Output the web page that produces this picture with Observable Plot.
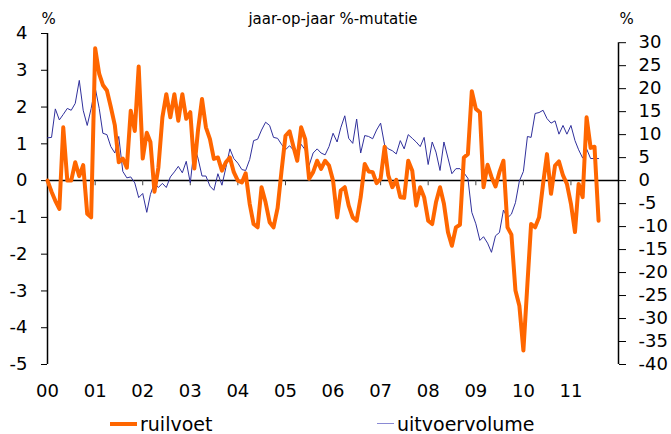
<!DOCTYPE html>
<html><head><meta charset="utf-8">
<script src="https://cdn.jsdelivr.net/npm/d3@7"></script>
<script src="https://cdn.jsdelivr.net/npm/@observablehq/plot@0.6"></script>
<style>
body{margin:0;background:#fff;font-family:"DejaVu Sans",sans-serif;}
#wrap{position:relative;width:671px;height:434px;overflow:hidden;}
#legend{position:absolute;top:409px;left:0;width:671px;height:29px;font-size:19px;color:#000;}
.item{position:absolute;top:0;height:29px;display:flex;align-items:center;white-space:nowrap;}
.sw{display:inline-block;margin-right:3px;}
</style></head><body>
<div id="wrap"><div id="chart"></div><div id="legend"></div></div>
<script>
const seriesNames = ["ruilvoet", "uitvoervolume"];
const title = "jaar-op-jaar %-mutatie";
const unitLabel = "%";
const yearLabels = ["00","01","02","03","04","05","06","07","08","09","10","11"];
const leftTicks = [-5,-4,-3,-2,-1,0,1,2,3,4];
const rightTicks = [-40,-35,-30,-25,-20,-15,-10,-5,0,5,10,15,20,25,30];
const axisRatio = 8; // right-axis units per left-axis unit

// ruilvoet (left axis), monthly Jan 2000 - Aug 2011
const ruilvoet = [
  0, -0.3, -0.55, -0.77, 1.45, 0, 0, 0.5, 0.12, 0.42, -0.9, -1.0,
  3.6, 2.9, 2.6, 2.45, 2.0, 1.5, 0.5, 0.6, 0.35, 1.9, 1.35, 3.1,
  0.6, 1.3, 1.05, -0.3, 0.35, 1.72, 2.35, 1.72, 2.35, 1.63, 2.35, 1.68,
  1.86, 0.33, 1.36, 2.22, 1.45, 1.13, 0.59, 0.63, 0.27, 0.5, 0.63, 0.23,
  0.0, -0.05, 0.2, -0.63, -1.18, -1.27, -0.18, -0.59, -1.13, -1.27, -0.75, 0.25,
  1.22, 1.34, 0.95, 0.54, 1.45, 1.13, 0.05, 0.23, 0.54, 0.32, 0.54, 0.41,
  0, -1.0, -0.27, -0.18, -0.68, -1.0, -1.09, -0.45, 0.45, 0.25, 0.23, -0.07,
  0.05, 0.92, 0.14, -0.18, 0.02, -0.45, -0.47, 0.54, 0.27, -0.68, -0.18, -0.45,
  -1.09, -1.18, -0.59, -0.18, -0.63, -1.4, -1.77, -1.27, -1.2, 0.63, 0.72, 2.43,
  1.95, 1.86, -0.18, 0.43, 0.1, -0.16, 0.23, 0.54, -1.27, -1.47, -2.99, -3.4,
  -4.62, -2.8, -1.18, -1.27, -1.0, -0.09, 0.72, -0.36, 0.41, 0.52, 0.14, -0.09,
  -0.63, -1.4, -0.09, -0.45, 1.72, 0.89, 0.92, -1.09
];
// uitvoervolume (right axis)
const uitvoervolume = [
  9.3, 9.4, 15.6, 13.2, 14.4, 15.7, 15.3, 16.8, 21.8, 15.3, 12.0, 15.7,
  20.2, 15.7, 10.3, 10.0, 7.4, 6.0, 9.6, 2.0, 0.6, 0.8, -0.5, -3.7,
  -2.8, -6.9, -3.0, -0.5, -1.5, -0.6, -1.5, 0.8, 1.9, 3.1, 1.7, 4.2,
  -0.5, 7.4, 4.9, 1.0, 1.0, -1.2, -2.1, 1.5, -1.0, 2.8, 6.9, 4.8,
  3.8, 2.4, 2.2, 4.6, 8.7, 9.0, 11.0, 12.7, 12.0, 9.4, 9.2, 7.9,
  6.7, 7.6, 6.7, 4.9, 7.9, 6.7, 3.3, 6.0, 6.9, 6.0, 5.6, 7.4,
  10.3, 8.4, 11.5, 14.1, 9.2, 8.1, 13.4, 6.0, 9.8, 9.6, 9.1, 11.0,
  12.5, 7.7, 6.9, 6.5, 5.8, 8.7, 6.9, 10.0, 9.2, 8.4, 7.4, 9.4,
  3.5, 8.4, 6.2, 2.2, 8.4, 4.9, 1.5, 2.6, 2.6, 1.7, 0.5, -6.9,
  -9.4, -13.0, -12.2, -13.6, -15.6, -12.0, -11.3, -6.4, -8.1, -7.3, -4.8, -0.1,
  2.0, 9.6, 9.4, 14.6, 14.8, 15.3, 13.5, 12.5, 13.0, 10.1, 12.0, 10.1,
  12.0, 8.7, 6.7, 4.9, 6.9, 4.8, 4.8, 4.8
];

const colors = ["#ff6600", "#30309c"];
const start = new Date(Date.UTC(2000, 0, 1));
const xEnd = new Date(Date.UTC(2012, 0, 1));
const months = ruilvoet.map((_, i) => d3.utcMonth.offset(start, i));
const rows = months.map((date, i) => ({date, r: ruilvoet[i], u: uitvoervolume[i]}));
const years = yearLabels.map((_, i) => d3.utcYear.offset(start, i));

const chart = Plot.plot({
  width: 671, height: 405,
  marginTop: 33, marginBottom: 41, marginLeft: 47, marginRight: 53,
  style: {fontFamily: "DejaVu Sans, sans-serif", fontSize: "18px", color: "#000", background: "#fff", overflow: "visible"},
  x: {type: "utc", domain: [start, xEnd]},
  y: {domain: [-5, 4]},
  marks: [
    Plot.axisX({ticks: years, tickSize: 0, tickPadding: 20, fontSize: 18, label: null,
      tickFormat: d => yearLabels[d.getUTCFullYear() - 2000]}),
    Plot.axisY({ticks: leftTicks, tickSize: 6, tickPadding: 14, fontSize: 18, label: null,
      tickFormat: d => String(d)}),
    Plot.axisY({anchor: "right", ticks: rightTicks.map(v => v / axisRatio), tickSize: 7, tickPadding: 13, fontSize: 18, label: null,
      tickFormat: d => String(Math.round(d * axisRatio))}),
    Plot.ruleX([start], {y1: -5, y2: 4, stroke: "#000", strokeWidth: 1.5}),
    Plot.ruleX([xEnd], {y1: -5, y2: 30 / axisRatio, stroke: "#000", strokeWidth: 1.5}),
    Plot.ruleY([0], {stroke: "#000", strokeWidth: 1.5}),
    Plot.ruleX(years.slice(1), {y1: 0, y2: -0.14, stroke: "#444", strokeWidth: 1}),
    Plot.lineY(rows, {x: "date", y: d => d.u / axisRatio, stroke: colors[1], strokeWidth: 1}),
    Plot.lineY(rows, {x: "date", y: "r", stroke: colors[0], strokeWidth: 4}),
    Plot.text([title], {frameAnchor: "top", dy: -20, fontSize: 15, fill: "#000"}),
    Plot.text([unitLabel], {frameAnchor: "top-left", dx: 1, dy: -20, textAnchor: "middle", fontSize: 15, fill: "#000"}),
    Plot.text([unitLabel], {frameAnchor: "top-right", dx: 8, dy: -20, textAnchor: "middle", fontSize: 15, fill: "#000"})
  ]
});
document.getElementById("chart").appendChild(chart);

const legend = document.getElementById("legend");
const legendLeft = [110, 377];
const swatchW = [27, 17];
const swatchH = [4, 1];
seriesNames.forEach((name, i) => {
  const it = document.createElement("div");
  it.className = "item";
  it.style.left = legendLeft[i] + "px";
  const sw = document.createElement("span");
  sw.className = "sw";
  sw.style.width = swatchW[i] + "px";
  sw.style.height = swatchH[i] + "px";
  sw.style.background = i === 0 ? colors[0] : "#8a8ad4";
  it.appendChild(sw);
  it.appendChild(document.createTextNode(name));
  legend.appendChild(it);
});
</script>
</body></html>
